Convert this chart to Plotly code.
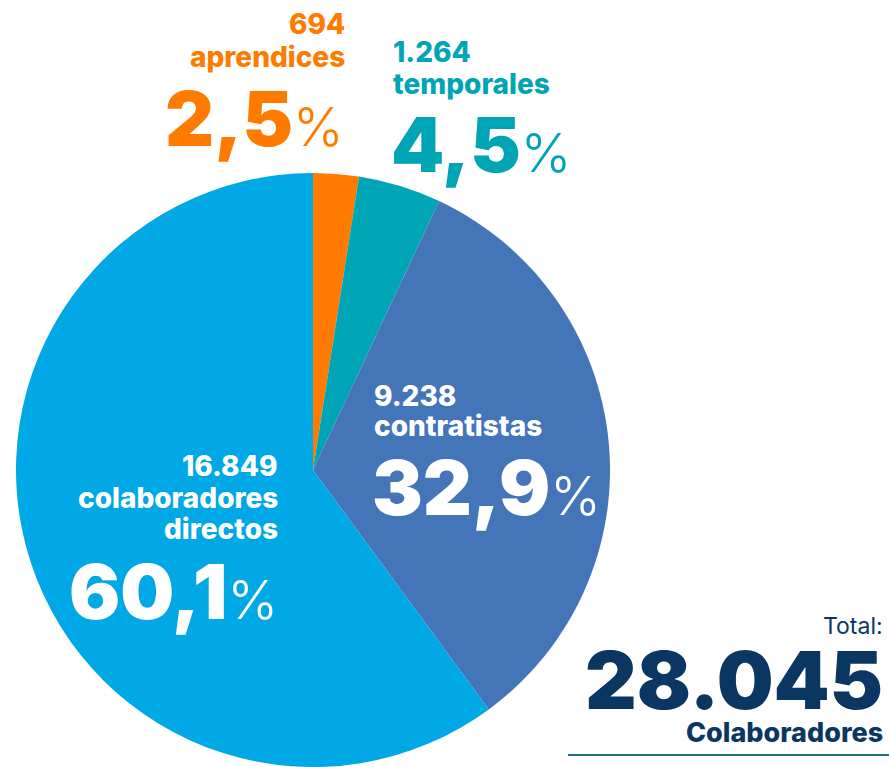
import plotly.graph_objects as go

W, H = 889, 767

categories = ["aprendices", "temporales", "contratistas", "colaboradores directos"]
counts = [694, 1264, 9238, 16849]
count_labels = ["694", "1.264", "9.238", "16.849"]
pct_labels = ["2,5", "4,5", "32,9", "60,1"]
total_label = "28.045"
colors = ["#FF7B00", "#00A5B5", "#4475B8", "#00A8E6"]
navy = "#0A3762"
FONT = "Inter"


def px(x, y):
    return x / W, 1 - y / H


fig = go.Figure(go.Pie(
    labels=categories,
    values=counts,
    sort=False,
    direction="clockwise",
    rotation=0,
    textinfo="none",
    hoverinfo="label+value+percent",
    marker=dict(colors=colors, line=dict(width=0)),
    domain=dict(x=[16 / W, 610 / W], y=[0, 1 - 173 / H]),
    showlegend=False,
))


def note(text, x, y, size, color, anchor="left", weight=800):
    xx, yy = px(x, y)
    fig.add_annotation(
        text=text, x=xx, y=yy, xref="paper", yref="paper",
        xanchor=anchor, yanchor="middle", showarrow=False,
        font=dict(family=FONT, size=size, color=color, weight=weight),
    )


def pct(p):
    return p + '<span style="font-weight:300;font-size:54px">%</span>'


LBL = 28
# aprendices
note(count_labels[0], 347, 24, LBL, colors[0], "right")
note(categories[0], 347, 57, LBL, colors[0], "right")
note(pct(pct_labels[0]), 346, 118, 76, colors[0], "right", 900)
# temporales
note(count_labels[1], 391, 52, LBL, colors[1])
note(categories[1], 391, 84, LBL, colors[1])
note(pct(pct_labels[1]), 389, 144, 76, colors[1], "left", 900)
# contratistas
note(count_labels[2], 372, 396, LBL, "white")
note(categories[2], 372, 426, LBL, "white")
note(pct(pct_labels[2]), 370, 487, 76, "white", "left", 900)
# directos
note(count_labels[3], 280, 466, LBL, "white", "right")
note("colaboradores", 280, 498, LBL, "white", "right")
note("directos", 280, 529, LBL, "white", "right")
note(pct(pct_labels[3]), 280, 591, 76, "white", "right", 900)
# total
note("Total:", 885, 626, 23, navy, "right", 400)
note(total_label, 885, 679, 80, navy, "right", 900)
note("Colaboradores", 885, 732, 27, navy, "right", 800)

fig.add_shape(type="line", xref="paper", yref="paper",
              x0=568 / W, x1=1, y0=1 - 755 / H, y1=1 - 755 / H,
              line=dict(color="#1E6F8A", width=2))

fig.update_layout(
    width=W, height=H,
    margin=dict(l=0, r=0, t=0, b=0),
    paper_bgcolor="white",
    plot_bgcolor="white",
)

fig.write_html("out.html", config={"displayModeBar": False},
               post_script="document.body.style.margin='0';document.body.style.overflow='hidden';")
